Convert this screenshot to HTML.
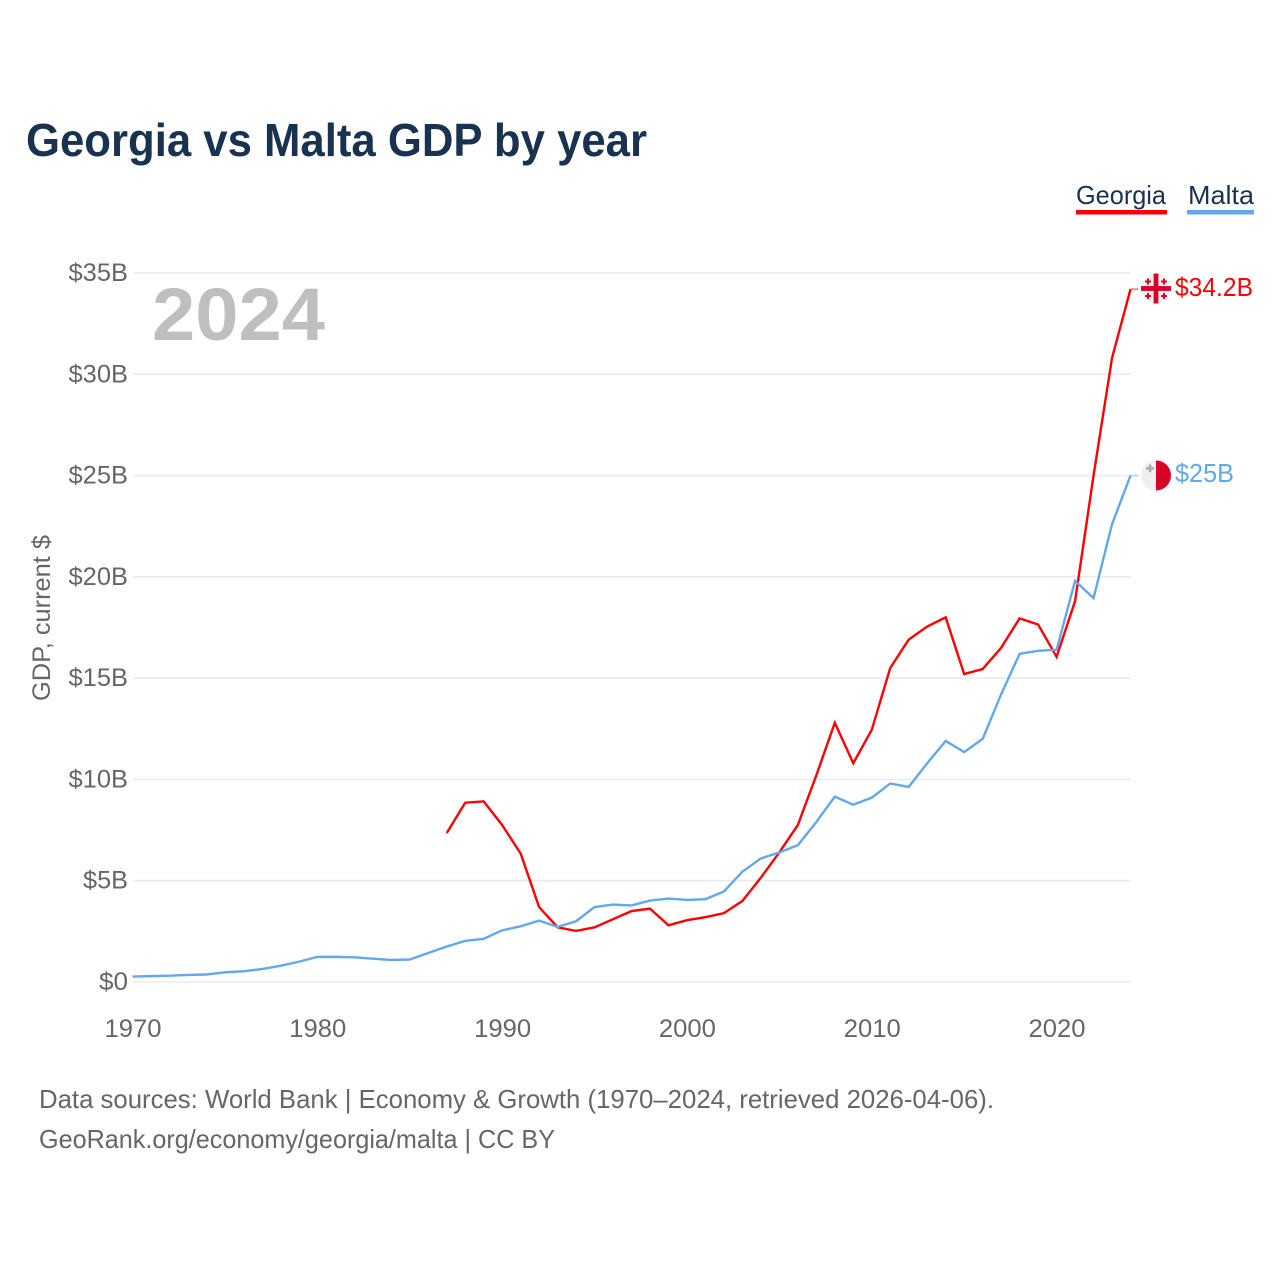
<!DOCTYPE html>
<html lang="en">
<head>
<meta charset="utf-8">
<title>Georgia vs Malta GDP by year</title>
<style>
html,body{margin:0;padding:0;background:#fff;}
svg{display:block;font-family:"Liberation Sans",sans-serif;}
</style>
</head>
<body>
<svg id="chart" xmlns="http://www.w3.org/2000/svg" width="1280" height="1280" viewBox="0 0 1280 1280">
  <rect x="0" y="0" width="1280" height="1280" fill="#ffffff"/>
  <text x="26" y="156" font-size="46" font-weight="700" fill="#18324f" textLength="621" lengthAdjust="spacingAndGlyphs">Georgia vs Malta GDP by year</text>

  <g>
    <text x="1076" y="204" font-size="26" fill="#18324f" textLength="90" lengthAdjust="spacingAndGlyphs">Georgia</text>
    <rect x="1076" y="210" width="91" height="4.5" fill="#ff0000"/>
  </g>
  <g>
    <text x="1188" y="204" font-size="26" fill="#18324f" textLength="66" lengthAdjust="spacingAndGlyphs">Malta</text>
    <rect x="1187" y="210" width="67" height="4.5" fill="#63a8ec"/>
  </g>

  <g id="grid"></g>
  <g id="yticks"></g>
  <g id="xticks"></g>

  <text x="152" y="340" font-size="74" font-weight="700" fill="#bfbfbf" textLength="173" lengthAdjust="spacingAndGlyphs">2024</text>
  <text transform="translate(50,618) rotate(-90)" text-anchor="middle" font-size="25" fill="#666666" textLength="166" lengthAdjust="spacingAndGlyphs">GDP, current $</text>

  <g id="series"></g>

  <g>
    <circle cx="1156" cy="288.5" r="15" fill="#f0f0f0"/>
    <rect x="1153.6" y="273.5" width="4.8" height="30" fill="#d80027"/>
    <rect x="1141" y="286.1" width="30" height="4.8" fill="#d80027"/>
    <path d="M1147 278.5h2v2h2v2h-2v2h-2v-2h-2v-2h2zM1163 278.5h2v2h2v2h-2v2h-2v-2h-2v-2h2zM1147 293h2v2h2v2h-2v2h-2v-2h-2v-2h2zM1163 293h2v2h2v2h-2v2h-2v-2h-2v-2h2z" fill="#d80027"/>
  </g>
  <g>
    <circle cx="1156" cy="475.5" r="15" fill="#f0f0f0"/>
    <path d="M1156 460.5a15 15 0 0 1 0 30z" fill="#d80027"/>
    <path d="M1148.7 464.5h2.6v2.6h2.6v2.6h-2.6v2.6h-2.6v-2.6h-2.6v-2.6h2.6z" fill="#acabb1"/>
  </g>

  <text x="1175" y="296" font-size="25.5" fill="#ff0000" textLength="78" lengthAdjust="spacingAndGlyphs">$34.2B</text>
  <text x="1175" y="482" font-size="25.5" fill="#63a8ec" textLength="59" lengthAdjust="spacingAndGlyphs">$25B</text>

  <text x="39" y="1108" font-size="26" fill="#666666" textLength="955" lengthAdjust="spacingAndGlyphs">Data sources: World Bank | Economy &amp; Growth (1970–2024, retrieved 2026-04-06).</text>
  <text x="39" y="1148" font-size="26" fill="#666666" textLength="516" lengthAdjust="spacingAndGlyphs">GeoRank.org/economy/georgia/malta | CC BY</text>
</svg>
<script>
const maltaStartYear = 1970;
const georgiaStartYear = 1987;
const maltaValues = [0.27,0.29,0.31,0.35,0.37,0.48,0.53,0.64,0.80,1.00,1.24,1.24,1.22,1.15,1.09,1.11,1.43,1.75,2.03,2.13,2.55,2.75,3.03,2.72,3.00,3.70,3.82,3.78,4.02,4.12,4.05,4.09,4.47,5.45,6.10,6.40,6.75,7.90,9.15,8.75,9.10,9.80,9.63,10.80,11.90,11.35,12.00,14.20,16.20,16.35,16.40,19.80,18.95,22.60,25.00];
const georgiaValues = [7.35,8.85,8.92,7.75,6.35,3.70,2.70,2.52,2.70,3.10,3.50,3.62,2.80,3.05,3.20,3.40,4.00,5.15,6.40,7.75,10.20,12.80,10.80,12.45,15.50,16.90,17.55,18.00,15.20,15.45,16.50,17.95,17.65,16.05,18.80,25.00,30.80,34.20];
const yTickValues = [0,5,10,15,20,25,30,35];
const yTickLabels = ["$0","$5B","$10B","$15B","$20B","$25B","$30B","$35B"];
const xTickYears = [1970,1980,1990,2000,2010,2020];

const NS = "http://www.w3.org/2000/svg";
const xScale = function (year) { return 132.5 + (year - 1970) * (1130.5 - 132.5) / 54; };
const yScale = function (value) { return 982 - value * (982 - 273) / 35; };

function make(tag, parentId, attrs) {
  const el = document.createElementNS(NS, tag);
  Object.keys(attrs).forEach(function (k) { el.setAttribute(k, attrs[k]); });
  document.getElementById(parentId).appendChild(el);
  return el;
}

yTickValues.forEach(function (v, i) {
  const line = make("line", "grid", {x1: 133, x2: 1131, y1: yScale(v), y2: yScale(v), stroke: "#ebebeb", "stroke-width": 1.6});
  
  
  const label = yTickLabels[i];
  const t = make("text", "yticks", {x: 128, y: yScale(v) + 8, "text-anchor": "end", "font-size": 25, fill: "#666666", textLength: label.length * 14.5 + (v > 0 ? 1.5 : 0), lengthAdjust: "spacingAndGlyphs"});
  t.textContent = label;
  
  
});

xTickYears.forEach(function (year) {
  const t = make("text", "xticks", {x: xScale(year) + 0.5, y: 1037, "text-anchor": "middle", "font-size": 25, fill: "#666666", textLength: 57, lengthAdjust: "spacingAndGlyphs"});
  t.textContent = String(year);
  
  
});

function drawSeries(values, startYear, color, name) {
  const pts = values.map(function (v, i) { return xScale(startYear + i).toFixed(2) + "," + yScale(v).toFixed(2); });
  const lastValue = values[values.length - 1];
  const lastYear = startYear + values.length - 1;
  const line = make("polyline", "series", {points: pts.join(" "), fill: "none", stroke: color, "stroke-width": 2.4, "stroke-linejoin": "miter"});
  
  
  const connector = make("line", "series", {x1: xScale(lastYear), x2: xScale(lastYear) + 8, y1: yScale(lastValue), y2: yScale(lastValue), stroke: color, "stroke-width": 2, "stroke-opacity": 0.45});
  
  
}
drawSeries(georgiaValues, georgiaStartYear, "#ff0000", "line-georgia");
drawSeries(maltaValues, maltaStartYear, "#63a8ec", "line-malta");
</script>
</body>
</html>
